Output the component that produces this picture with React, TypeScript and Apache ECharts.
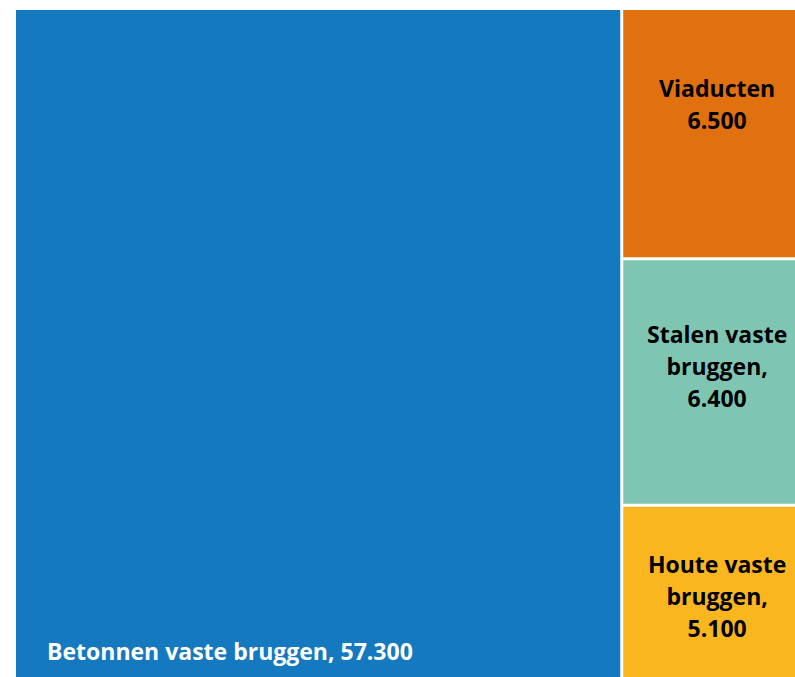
import React, { useEffect, useRef } from "react";
import * as echarts from "echarts";

const categories = ["Betonnen vaste bruggen", "Viaducten", "Stalen vaste bruggen", "Houte vaste bruggen"];
const values = [57300, 6500, 6400, 5100];
const labelTexts = [
  "Betonnen vaste bruggen, 57.300",
  "Viaducten\n6.500",
  "Stalen vaste\nbruggen,\n6.400",
  "Houte vaste\nbruggen,\n5.100",
];
const colors = ["#1579bf", "#e1700f", "#7fc6b2", "#f9b61e"];
const labelOffsets = [
  [0, 0],
  [0, -30],
  [0, -16],
  [0, -7],
];

export default function App() {
  const ref = useRef<HTMLDivElement>(null);
  useEffect(() => {
    if (!ref.current) return;
    const chart = echarts.init(ref.current, undefined, { renderer: "svg" });
    const data = categories.map((name, i) => {
      const isBig = i === 0;
      return {
        name,
        value: values[i],
        itemStyle: { color: colors[i] },
        label: isBig
          ? {
              show: true,
              position: [26, 620],
              align: "left",
              verticalAlign: "top",
              color: "#ffffff",
              formatter: labelTexts[i],
            }
          : {
              show: true,
              position: "inside",
              align: "center",
              verticalAlign: "middle",
              offset: labelOffsets[i],
              color: "#000000",
              formatter: labelTexts[i],
            },
      };
    });
    chart.setOption({
      animation: false,
      series: [
        {
          type: "treemap",
          left: 16,
          top: 10,
          width: 795,
          height: 690,
          roam: false,
          nodeClick: false,
          breadcrumb: { show: false },
          sort: false,
          itemStyle: { gapWidth: 3, borderWidth: 0, borderColor: "#ffffff" },
          label: {
            fontFamily: "Open Sans",
            fontWeight: "bold",
            fontSize: 23,
            lineHeight: 32,
            overflow: "none",
          },
          data,
        },
      ],
    });
    return () => chart.dispose();
  }, []);
  return (
    <div
      ref={ref}
      style={{ position: "fixed", left: 0, top: 0, width: 795, height: 677, background: "#ffffff" }}
    />
  );
}
